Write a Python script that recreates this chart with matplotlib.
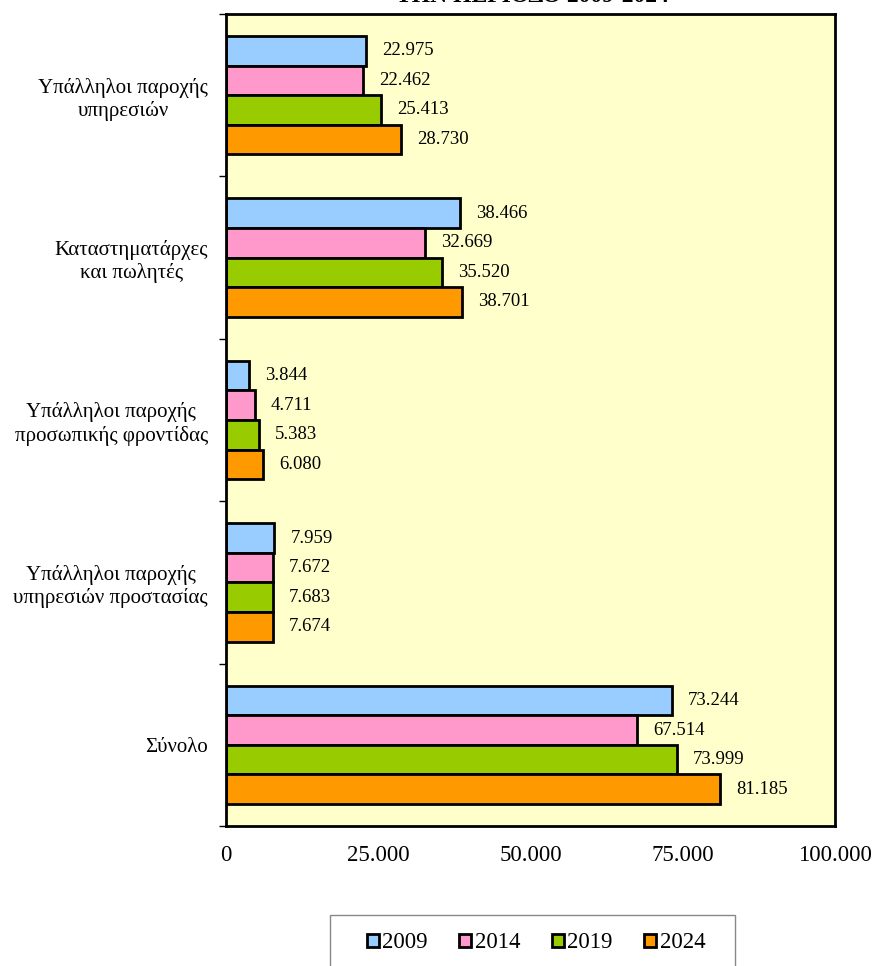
import matplotlib
matplotlib.use("Agg")
import matplotlib.pyplot as plt
import numpy as np
from matplotlib.patches import Rectangle

categories = ["Υπάλληλοι παροχής\nυπηρεσιών", "Καταστηματάρχες\nκαι πωλητές",
              "Υπάλληλοι παροχής\nπροσωπικής φροντίδας", "Υπάλληλοι παροχής\nυπηρεσιών προστασίας",
              "Σύνολο"]
years = ["2009", "2014", "2019", "2024"]
v2009 = [22975, 38466, 3844, 7959, 73244]
v2014 = [22462, 32669, 4711, 7672, 67514]
v2019 = [25413, 35520, 5383, 7683, 73999]
v2024 = [28730, 38701, 6080, 7674, 81185]
series = [v2009, v2014, v2019, v2024]
colors = ["#99CCFF", "#FF99CC", "#99CC00", "#FF9900"]
xticks = [0, 25000, 50000, 75000, 100000]
title = "ΤΗΝ ΠΕΡΙΟΔΟ 2009-2024"

plt.rcParams['font.family'] = ['Liberation Serif', 'DejaVu Serif']

fig = plt.figure(figsize=(8.72, 9.66), dpi=100)
ax = fig.add_axes([226/872, 1-826/966, (835-226)/872, (826-14)/966])
ax.set_facecolor("#FFFFCC")

n = len(categories)
bh = 0.182
ypos = np.arange(n)
for i, (vals, c, yr) in enumerate(zip(series, colors, years)):
    y = ypos - 1.5*bh + i*bh
    ax.barh(y, vals, height=bh, color=c, edgecolor="black", linewidth=2, label=yr)
    for yy, v in zip(y, vals):
        ax.annotate(f"{v:,}".replace(",", "."), xy=(v, yy), xytext=(11.5, 0),
                    textcoords="offset points", va="center", ha="left", fontsize=13.5)

ax.set_ylim(n - 0.5, -0.5)
ax.set_xlim(0, 100000)
ax.set_xticks(xticks)
ax.set_xticklabels([f"{t:,}".replace(",", ".") for t in xticks], fontsize=16.5)
ax.tick_params(axis="x", length=0, pad=14)
ax.set_yticks(ypos)
ax.set_yticklabels(categories, fontsize=15, multialignment="center")
ax.tick_params(axis="y", length=0, pad=13)
ax.set_yticks(np.arange(-0.5, n, 1.0), minor=True)
ax.tick_params(axis="y", which="minor", length=5, width=1)
for s in ax.spines.values():
    s.set_linewidth(2)
    s.set_color("black")

fig.text(532/872, 1-2/966, title, ha="center", va="baseline", fontsize=17, fontweight="bold")

fig.patches.append(Rectangle((330/872, -0.02), (735-330)/872, (1-915/966)+0.02,
                             transform=fig.transFigure, facecolor="white",
                             edgecolor="#888888", linewidth=1))
handles = [Rectangle((0, 0), 1, 1, facecolor=c, edgecolor="black", linewidth=2) for c in colors]
fig.legend(handles, years, loc="center", bbox_to_anchor=(536/872, 1-943/966), ncol=4,
           frameon=False, fontsize=16.5, handlelength=0.52, handleheight=0.52,
           handletextpad=0.15, columnspacing=1.38)

fig.savefig("out.png", dpi=100)
